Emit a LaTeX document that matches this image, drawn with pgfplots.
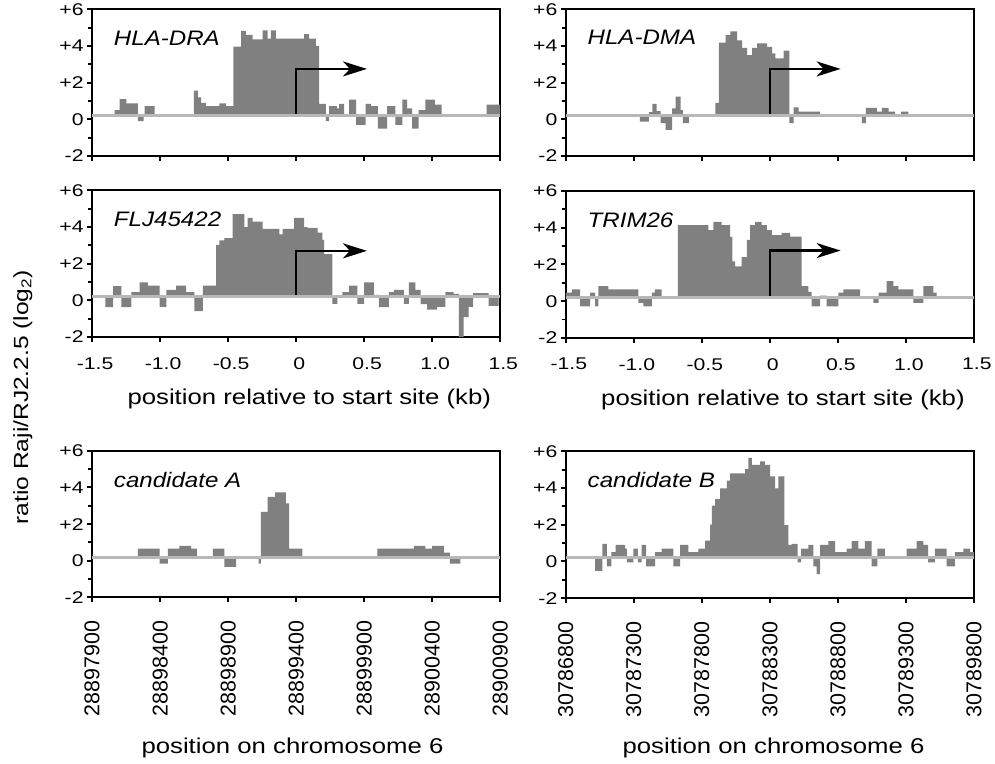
\documentclass[border=0pt]{standalone}
\usepackage{fontspec}
\setmainfont{Liberation Sans}
\newfontfamily\tickfont{Liberation Sans}[FakeStretch=1.25]
\newfontfamily\labfont{Liberation Sans}[FakeStretch=1.2]
\newfontfamily\namefont{Liberation Sans}[FakeStretch=1.15]
\usepackage{pgfplots}
\pgfplotsset{compat=1.18}
\usepgfplotslibrary{fillbetween}
\usetikzlibrary{arrows.meta}
\definecolor{barcol}{RGB}{128,128,128}
\definecolor{basecol}{RGB}{184,184,184}
\newcommand\ticksz{\tickfont\fontsize{17}{20}\selectfont}
\newcommand\rotsz{\fontsize{21.5}{25}\selectfont}
\newcommand\labsz{\labfont\fontsize{21.5}{26}\selectfont}
\newcommand\namesz{\namefont\fontsize{21}{25}\selectfont\itshape}
\pgfplotsset{
  panel/.style={scale only axis, width=409pt, height=147pt, ymin=-2, ymax=6,
    ytick={-2,0,2,4,6}, yticklabels={-2,0,+2,+4,+6}, minor ytick={-1,1,3,5},
    tick align=outside, tick pos=left, axis line style={line width=2pt, black},
    major tick length=5pt, minor tick length=4pt,
    every tick/.append style={black, line width=2pt},
    tick label style={font=\ticksz},
    anchor=north west},
  kb/.style={xmin=-1.5, xmax=1.5, xtick={-1.5,-1,-0.5,0,0.5,1,1.5}},
  kbtop/.style={kb, xticklabels={}},
  kbmid/.style={kb, xticklabels={-1.5,-1.0,-0.5,0,0.5,1.0,1.5},
    xticklabel shift=12pt, xticklabel style={xshift=3pt},
    xlabel={position relative to start site (kb)},
    xlabel style={font=\labsz, at={(axis description cs:0.532,0)}, anchor=base, yshift=-68pt}},
  chrom/.style={xmin=0, xmax=3000, xtick={0,500,1000,1500,2000,2500,3000},
    xticklabel style={rotate=90, anchor=east, font=\rotsz},
    xticklabel shift=15pt,
    xlabel={position on chromosome 6},
    xlabel style={font=\labsz, at={(axis description cs:#1,0)}, anchor=base, yshift=-156pt}},
  baseline/.style={draw=basecol, line width=3pt, forget plot},
  startarrow/.style={black, line width=2.2pt, -{Stealth[length=24pt,width=15pt,inset=7pt]}},
}
\begin{document}
\begin{tikzpicture}
\path (0,0) rectangle (995pt,-765pt);
\node[rotate=90, font=\labfont\fontsize{20.5}{25}\selectfont] at (23pt,-398pt) {ratio Raji/RJ2.2.5 (log\textsubscript{2})};

% ---------- HLA-DRA
\begin{axis}[panel, kbtop, at={(92.3pt,-9.3pt)}]
\addplot[name path=b1, baseline] coordinates {(-1.5,0.2) (1.5,0.2)};
\addplot[name path=d1, const plot, draw=none] table {
x y
-1.5 0.2
-1.334 0.5
-1.297 1.1
-1.248 0.87
-1.163 -0.1
-1.121 0.2
-1.114 0.72
-1.041 0.2
-0.752 1.56
-0.723 1.2
-0.699 0.9
-0.662 0.72
-0.564 0.87
-0.515 0.72
-0.462 3.96
-0.405 4.82
-0.369 4.6
-0.320 4.36
-0.247 4.85
-0.210 4.4
-0.186 4.85
-0.150 4.4
0.059 4.65
0.095 4.4
0.144 4.0
0.169 0.85
0.218 -0.1
0.242 0.72
0.300 0.6
0.315 0.85
0.352 0.2
0.389 1.08
0.440 -0.3
0.510 0.85
0.550 0.72
0.600 -0.5
0.669 0.72
0.730 -0.3
0.780 1.08
0.816 0.6
0.853 -0.5
0.900 0.5
0.950 1.08
1.020 0.8
1.070 0.2
1.400 0.8
1.500 0.8
};
\addplot[barcol] fill between[of=d1 and b1];
\addplot[startarrow] coordinates {(0,0.3) (0,2.75) (0.52,2.75)};
\node[anchor=base west, font=\namesz] at (rel axis cs:0.045,0.755) {HLA-DRA};
\end{axis}

% ---------- HLA-DMA
\begin{axis}[panel, kbtop, at={(567pt,-9.3pt)}]
\addplot[name path=b2, baseline] coordinates {(-1.5,0.2) (1.5,0.2)};
\addplot[name path=d2, const plot, draw=none] table {
x y
-1.5 0.2
-0.955 -0.13
-0.889 0.4
-0.864 0.84
-0.833 0.45
-0.803 -0.2
-0.767 -0.58
-0.718 0.6
-0.693 1.24
-0.656 0.5
-0.639 -0.2
-0.595 0.2
-0.400 0.9
-0.375 4.18
-0.326 4.6
-0.290 4.8
-0.241 4.3
-0.204 3.9
-0.167 3.5
-0.131 3.9
-0.094 4.15
-0.021 3.95
0.016 3.6
0.040 3.33
0.101 3.75
0.143 -0.2
0.175 0.65
0.211 0.42
0.370 0.2
0.676 -0.2
0.705 0.62
0.786 0.42
0.823 0.62
0.872 0.42
0.920 0.2
0.965 0.42
1.018 0.2
1.500 0.2
};
\addplot[barcol] fill between[of=d2 and b2];
\addplot[startarrow] coordinates {(0,0.3) (0,2.75) (0.52,2.75)};
\node[anchor=base west, font=\namesz] at (rel axis cs:0.045,0.762) {HLA-DMA};
\end{axis}

% ---------- FLJ45422
\begin{axis}[panel, kbmid, at={(92.3pt,-190.7pt)}]
\addplot[name path=b3, baseline] coordinates {(-1.5,0.2) (1.5,0.2)};
\addplot[name path=d3, const plot, draw=none] table {
x y
-1.500 0.2
-1.402 -0.37
-1.346 0.77
-1.285 -0.37
-1.212 0.45
-1.151 0.98
-1.090 0.8
-1.004 -0.35
-0.955 0.57
-0.882 0.8
-0.809 0.45
-0.748 -0.59
-0.686 0.8
-0.589 3.02
-0.564 3.27
-0.528 3.4
-0.467 4.7
-0.381 4.0
-0.357 4.5
-0.320 4.3
-0.247 3.9
-0.124 3.6
-0.100 3.9
-0.015 4.5
0.059 4.0
0.083 3.95
0.157 3.7
0.193 3.3
0.205 2.52
0.266 -0.19
0.303 0.2
0.340 0.45
0.389 0.8
0.450 -0.19
0.499 0.98
0.572 0.3
0.608 -0.37
0.682 0.45
0.718 0.57
0.792 -0.19
0.828 0.98
0.877 0.57
0.914 -0.2
0.963 -0.5
1.036 -0.35
1.097 0.45
1.158 0.35
1.195 -2.0
1.231 -0.91
1.268 -0.35
1.300 0.4
1.415 -0.3
1.488 0.2
1.500 0.2
};
\addplot[barcol] fill between[of=d3 and b3];
\addplot[startarrow] coordinates {(0,0.3) (0,2.7) (0.52,2.7)};
\node[anchor=base west, font=\namesz] at (rel axis cs:0.045,0.752) {FLJ45422};
\end{axis}

% ---------- TRIM26
\begin{axis}[panel, kbmid, at={(567pt,-191.5pt)}]
\addplot[name path=b4, baseline] coordinates {(-1.5,0.2) (1.5,0.2)};
\addplot[name path=d4, const plot, draw=none] table {
x y
-1.500 0.46
-1.456 0.64
-1.395 -0.29
-1.321 0.46
-1.284 -0.29
-1.260 0.82
-1.187 0.64
-0.966 -0.1
-0.929 -0.29
-0.868 0.46
-0.845 0.64
-0.795 0.2
-0.677 4.15
-0.452 3.88
-0.415 4.33
-0.354 4.15
-0.293 3.5
-0.275 2.17
-0.256 1.9
-0.207 2.4
-0.170 3.34
-0.146 4.15
-0.109 4.33
-0.060 4.15
-0.023 3.88
0.014 3.6
0.087 3.73
0.148 3.52
0.234 0.82
0.283 0.5
0.307 -0.29
0.369 0.3
0.418 -0.29
0.503 0.46
0.540 0.64
0.663 0.2
0.761 -0.1
0.800 0.46
0.859 1.09
0.908 0.82
0.944 0.64
1.054 -0.1
1.128 0.82
1.201 0.46
1.226 0.2
1.500 0.2
};
\addplot[barcol] fill between[of=d4 and b4];
\addplot[startarrow] coordinates {(0,0.3) (0,2.76) (0.52,2.76)};
\node[anchor=base west, font=\namesz] at (rel axis cs:0.045,0.752) {TRIM26};
\end{axis}

% ---------- candidate A
\begin{axis}[panel, chrom=0.491, at={(92.3pt,-451.7pt)},
  xticklabels={28897900,28898400,28898900,28899400,28899900,28900400,28900900}]
\addplot[name path=b5, baseline] coordinates {(0,0.2) (3000,0.2)};
\addplot[name path=d5, const plot, draw=none] table {
x y
0 0.2
337 0.67
496 -0.15
557 0.67
642 0.82
728 0.67
770 0.2
887 0.67
972 -0.33
1058 0.2
1224 -0.15
1241 2.67
1290 3.49
1346 3.73
1424 3.13
1449 0.67
1546 0.2
2096 0.67
2365 0.82
2450 0.67
2499 0.82
2585 0.44
2630 -0.15
2707 0.2
3000 0.2
};
\addplot[barcol] fill between[of=d5 and b5];
\node[anchor=base west, font=\namesz] at (rel axis cs:0.045,0.751) {candidate A};
\end{axis}

% ---------- candidate B
\begin{axis}[panel, chrom=0.509, at={(567pt,-452.3pt)},
  xticklabels={30786800,30787300,30787800,30788300,30788800,30789300,30789800}]
\addplot[name path=b6, baseline] coordinates {(0,0.2) (3000,0.2)};
\addplot[name path=d6, const plot, draw=none] table {
x y
0 0.2
216 -0.51
269 0.95
301 -0.27
335 0.5
367 0.9
436 0.7
448 -0.05
497 0.7
529 -0.05
558 0.9
590 -0.27
656 0.5
705 0.7
791 -0.27
840 0.9
901 0.5
975 0.7
1024 1.13
1060 2.0
1073 3.04
1097 3.4
1134 3.98
1183 4.4
1207 4.8
1318 5.04
1342 5.64
1367 5.27
1428 5.45
1464 5.27
1501 4.64
1538 3.98
1562 4.64
1607 1.98
1636 0.9
1660 0.95
1704 -0.05
1729 0.7
1783 0.9
1820 -0.27
1844 -0.69
1869 0.9
1930 1.1
1979 0.5
2064 0.7
2101 1.1
2150 0.7
2199 1.1
2248 -0.27
2290 0.7
2346 0.2
2505 0.7
2579 1.1
2628 0.9
2664 -0.05
2713 0.7
2799 -0.27
2860 0.5
2922 0.7
2971 0.5
3000 0.5
};
\addplot[barcol] fill between[of=d6 and b6];
\node[anchor=base west, font=\namesz] at (rel axis cs:0.045,0.755) {candidate B};
\end{axis}
\end{tikzpicture}
\end{document}
